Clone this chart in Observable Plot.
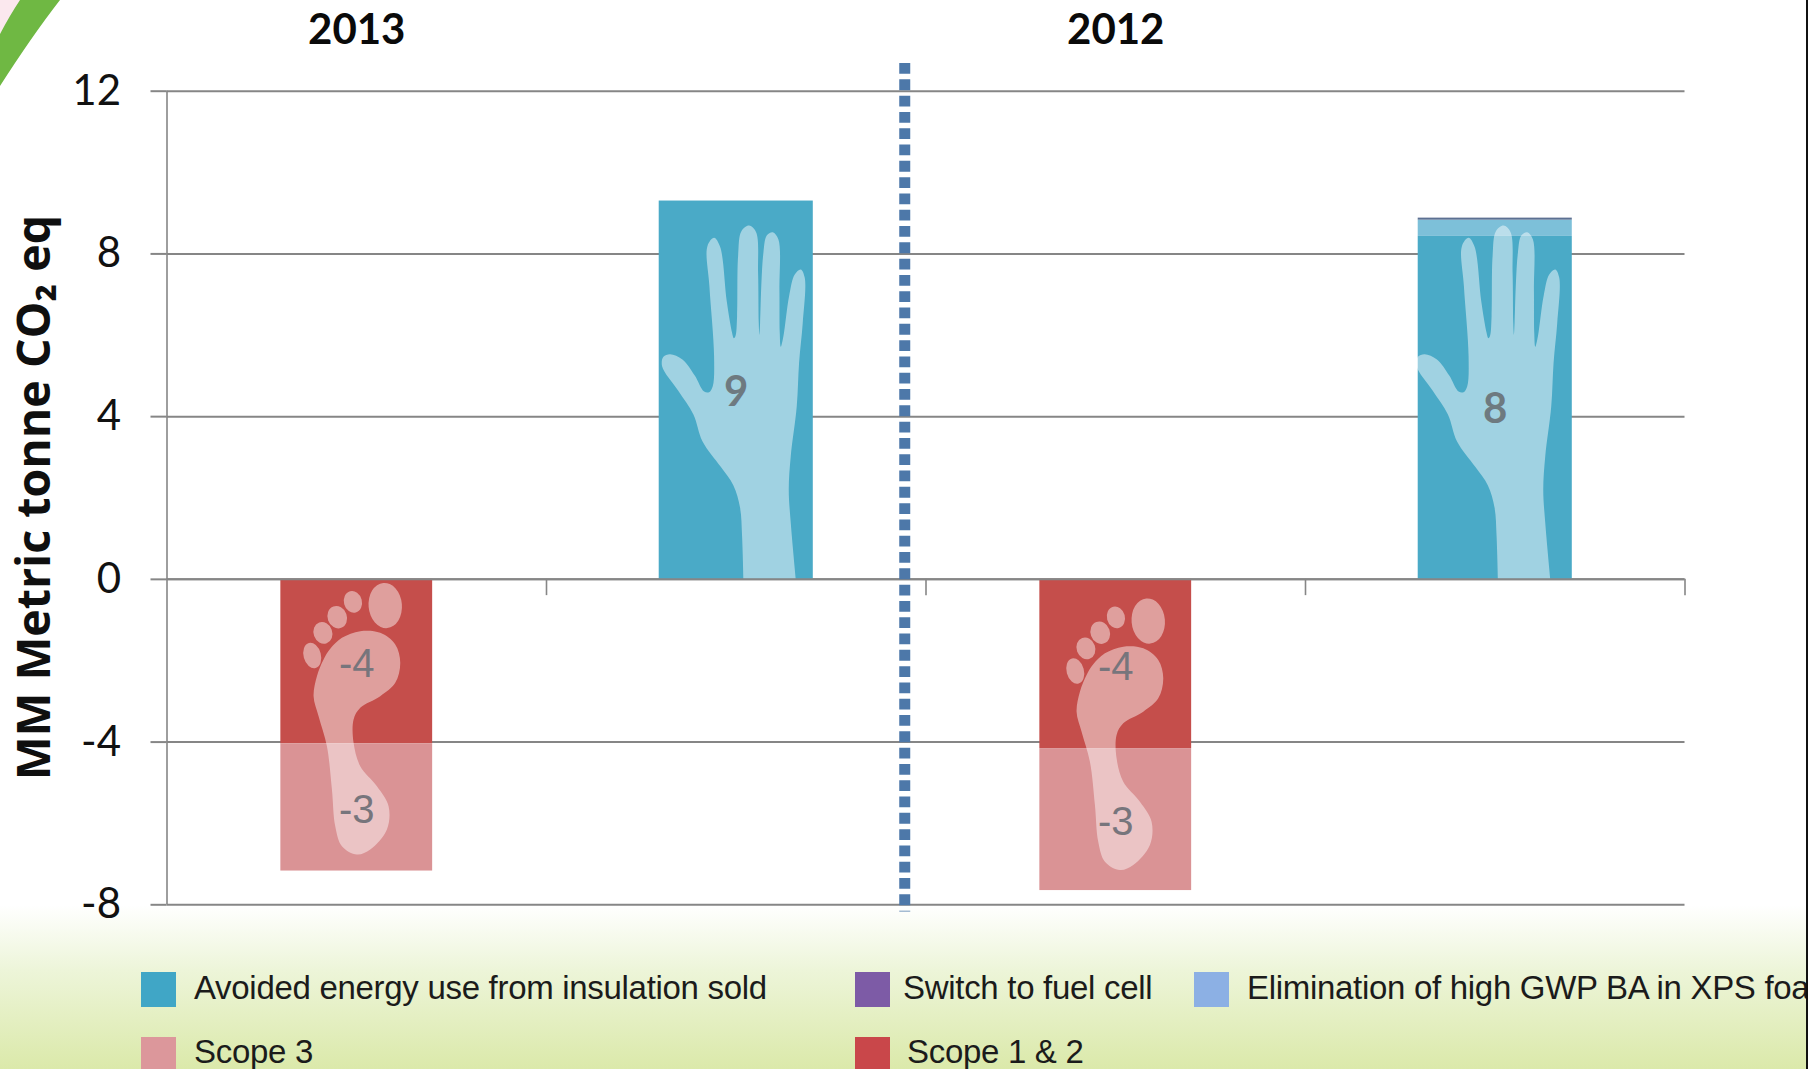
<!DOCTYPE html>
<html>
<head>
<meta charset="utf-8">
<title>Footprint and handprint, 2013 and 2012</title>
<script src="https://cdn.jsdelivr.net/npm/d3@7"></script>
<script src="https://cdn.jsdelivr.net/npm/@observablehq/plot@0.6"></script>
<style>
  html, body { margin: 0; padding: 0; }
  body {
    position: relative; width: 1808px; height: 1069px; overflow: hidden;
    background: linear-gradient(to bottom, #fff 0, #fff 905px, #edf5d9 970px, #dbe9aa 1069px);
  }
  #chart svg { display: block; background: transparent; overflow: visible; }
  #swoosh { position: absolute; left: 0; top: 0; }
  #edge { position: absolute; right: 0; top: 0; width: 2px; height: 1069px; background: #111; }
  .key { position: absolute; left: 0; top: 0; white-space: nowrap; font: 33px "Liberation Sans", Arial, sans-serif; letter-spacing: -0.3px; color: #1b1b1b; }
  .chip { position: absolute; width: 35px; height: 35px; }
  .name { position: absolute; line-height: 35px; }
</style>
</head>
<body>
<div id="chart"></div>
<svg id="swoosh" width="90" height="100"></svg>
<div id="legend"></div>
<div id="edge"></div>
<script>
// Reporting years, each with a footprint slot and a handprint slot
const years = ["2013", "2012"];

// Million metric tonnes CO2 eq by source
const scope12 = [-4.04, -4.16];
const scope3 = [-3.13, -3.49];
const avoidedEnergy = [9.30, 8.43];
const fuelCell = [0, 0.05];
const blowingAgent = [0, 0.40];

const yTicks = [-8, -4, 0, 4, 8, 12];
const slotBoundaries = [1, 2, 3, 4];

const seriesNames = [
  "Avoided energy use from insulation sold",
  "Elimination of high GWP BA in XPS foam",
  "Switch to fuel cell",
  "Scope 1 & 2",
  "Scope 3"
];
const barColors = ["#4aaac7", "#7dc0d9", "#5c7092", "#c54e4b", "#da9395"];

// Legend entries in reading order
const legendNames = [
  "Avoided energy use from insulation sold",
  "Switch to fuel cell",
  "Elimination of high GWP BA in XPS foam",
  "Scope 3",
  "Scope 1 & 2"
];
const legendColors = ["#40a6c6", "#7d5ba6", "#8cb0e4", "#dc979b", "#c9474a"];
const legendChipX = [141, 855, 1194, 141, 855];
const legendTextX = [194, 903, 1247, 194, 907];
const legendChipY = [60, 60, 60, 125, 125];
const legendTextY = [58, 58, 58, 122, 122];

const rows = years.flatMap((year, i) => [
  {slot: 2 * i, series: "Scope 1 & 2", value: scope12[i], labelled: true},
  {slot: 2 * i, series: "Scope 3", value: scope3[i], labelled: true},
  {slot: 2 * i + 1, series: seriesNames[0], value: avoidedEnergy[i], labelled: true},
  {slot: 2 * i + 1, series: seriesNames[1], value: blowingAgent[i], labelled: false},
  {slot: 2 * i + 1, series: seriesNames[2], value: fuelCell[i], labelled: false}
]);

// Handprint bars sit a touch wider than the footprint bars
const barInset = d => d.slot % 2 ? 0.297 : 0.3;
const DIVIDER_SLOT = 1.944;
const GRID = "#868686";

// Icon outlines live on a 3x grid centred on the bar, with the zero line as baseline
const handOutline = [
  [308,1168],[304,1040],[298,955],[278,888],[240,832],[185,755],[158,675],[112,603],[64,530],[68,502],
  [88,494],[125,510],[162,558],[190,606],[205,608],[216,590],[220,500],[206,290],[200,170],[220,145],[238,172],
  [258,335],[274,430],[279,446],[284,440],[289,380],[292,200],[302,125],[325,108],[346,128],[352,250],[354,400],
  [356,436],[358,400],[362,280],[368,190],[378,138],[396,128],[413,150],[416,300],[417,430],[420,472],[428,440],
  [445,320],[462,255],[480,240],[492,265],[486,400],[475,520],[468,650],[450,800],[444,900],[450,1000],[465,1168]
];
const soleOutline = [
  [180,238],[215,205],[270,185],[330,190],[375,225],[390,280],[375,340],[330,380],[270,415],[250,450],
  [250,520],[270,590],[320,650],[355,710],[350,780],[300,840],[260,855],[215,830],[195,770],[185,660],
  [170,530],[145,440],[130,380],[140,320],[160,270]
];
const toes = [
  {cx: 345, cy: 108, rx: 50, ry: 68, angle: -5},
  {cx: 248, cy: 97, rx: 27, ry: 33, angle: -15},
  {cx: 201, cy: 143, rx: 29, ry: 34, angle: -20},
  {cx: 158, cy: 190, rx: 28, ry: 33, angle: -20},
  {cx: 126, cy: 258, rx: 26, ry: 39, angle: -15}
];
const iconOffsets = {
  foot: [[0, 0], [4, 15.5]],
  hand: [[0, 0], [-4.5, 1.5]]
};

function icons(index, {x, y}) {
  const root = d3.create("svg:g").attr("fill", "white");
  const smooth = d3.line().curve(d3.curveCatmullRomClosed.alpha(0.5));
  years.forEach((_, i) => {
    const foot = root.append("g")
      .attr("fill-opacity", 0.46)
      .attr("transform", `translate(${x(2 * i + 0.5) + iconOffsets.foot[i][0]},${y(0) + iconOffsets.foot[i][1]}) scale(${1 / 3}) translate(-258,-28)`);
    foot.append("path").attr("d", smooth(soleOutline));
    foot.selectAll("ellipse").data(toes).join("ellipse")
      .attr("rx", d => d.rx).attr("ry", d => d.ry)
      .attr("transform", d => `translate(${d.cx},${d.cy}) rotate(${d.angle})`);
    const hand = root.append("g")
      .attr("fill-opacity", 0.48)
      .attr("transform", `translate(${x(2 * i + 1.5) + iconOffsets.hand[i][0]},${y(0)}) scale(${1 / 3}) translate(-285,-1168)`);
    hand.append("path").attr("d", d3.line().curve(d3.curveCatmullRom.alpha(0.5))(handOutline) + "Z");
  });
  return root.node();
}

const stacked = extra => Plot.stackY({x: d => d.slot + 0.5, y: "value", order: null, ...extra});

const chart = Plot.plot({
  width: 1808,
  height: 912,
  marginTop: 90.7,
  marginBottom: 7.7,
  marginLeft: 166.5,
  marginRight: 123.5,
  style: {background: "transparent", color: "#111"},
  x: {domain: [0, 4], axis: null},
  y: {domain: [-8, 12], axis: null},
  color: {domain: seriesNames, range: barColors},
  marks: [
    Plot.ruleY(yTicks, {x1: 0, x2: 4, stroke: GRID, strokeWidth: 2}),
    Plot.ruleX([0], {y1: -8, y2: 12, stroke: GRID, strokeWidth: 1.6}),
    Plot.ruleX(slotBoundaries, {y1: 0, y2: -0.4, stroke: GRID, strokeWidth: 1.6}),
    Plot.axisY({
      ticks: yTicks, tickSize: 16, tickPadding: 30, tickFormat: d => `${d}`, label: null,
      stroke: GRID, strokeWidth: 2, fontSize: 42, fontFamily: "Lato", fill: "#111"
    }),
    Plot.rect(rows, stacked({
      x1: d => d.slot + barInset(d),
      x2: d => d.slot + 1 - barInset(d),
      fill: "series"
    })),
    icons,
    Plot.ruleY([0], {x1: 0, x2: 4, stroke: GRID, strokeWidth: 2}),
    Plot.ruleX([DIVIDER_SLOT], {
      y1: 12.68, y2: -8.18, stroke: "#4d78a9", strokeWidth: 11, strokeDasharray: "10.8 5.5"
    }),
    Plot.text(rows, stacked({
      filter: d => d.value > 0,
      text: d => d.labelled ? `${Math.round(d.value)}` : null,
      dy: 2,
      fontFamily: "Lato", fontWeight: 700, fontSize: 42, fill: "#6e7a80"
    })),
    Plot.text(rows, stacked({
      filter: d => d.value < 0,
      text: d => d.labelled ? `${Math.round(d.value)}` : null,
      dy: 3,
      fontFamily: "Liberation Sans", fontSize: 40, fill: "#77757c"
    })),
    Plot.text(years, {
      x: (d, i) => 2 * i + 0.5, frameAnchor: "top", dy: -77,
      text: d => d, fontFamily: "Lato", fontWeight: 700, fontSize: 42, fill: "#0a0a0a"
    }),
    Plot.text(["MM Metric tonne CO₂ eq"], {
      y: () => 2.01, frameAnchor: "left", dx: -132, rotate: -90, textAnchor: "middle",
      text: d => d, fontFamily: "Open Sans", fontWeight: 700, fontSize: 46.5, fill: "#0f0f0f"
    })
  ]
});
document.getElementById("chart").append(chart);

// Corner accent of the slide template
const corner = d3.select("#swoosh");
corner.append("path").attr("d", "M0,0H22Q10,16 0,34Z").attr("fill", "#fbe8ee");
corner.append("path").attr("d", "M20,0H60Q32,36 0,86V34Q10,15 20,0Z").attr("fill", "#6fb843");

// Legend under the plot
const legend = d3.select("#legend").selectAll("div").data(legendNames).join("div").attr("class", "key")
  .style("top", "912px");
legend.append("div").attr("class", "chip")
  .style("left", (d, i) => legendChipX[i] + "px")
  .style("top", (d, i) => legendChipY[i] + "px")
  .style("background", (d, i) => legendColors[i]);
legend.append("div").attr("class", "name")
  .style("left", (d, i) => legendTextX[i] + "px")
  .style("top", (d, i) => legendTextY[i] + "px")
  .text(d => d);
</script>
</body>
</html>
